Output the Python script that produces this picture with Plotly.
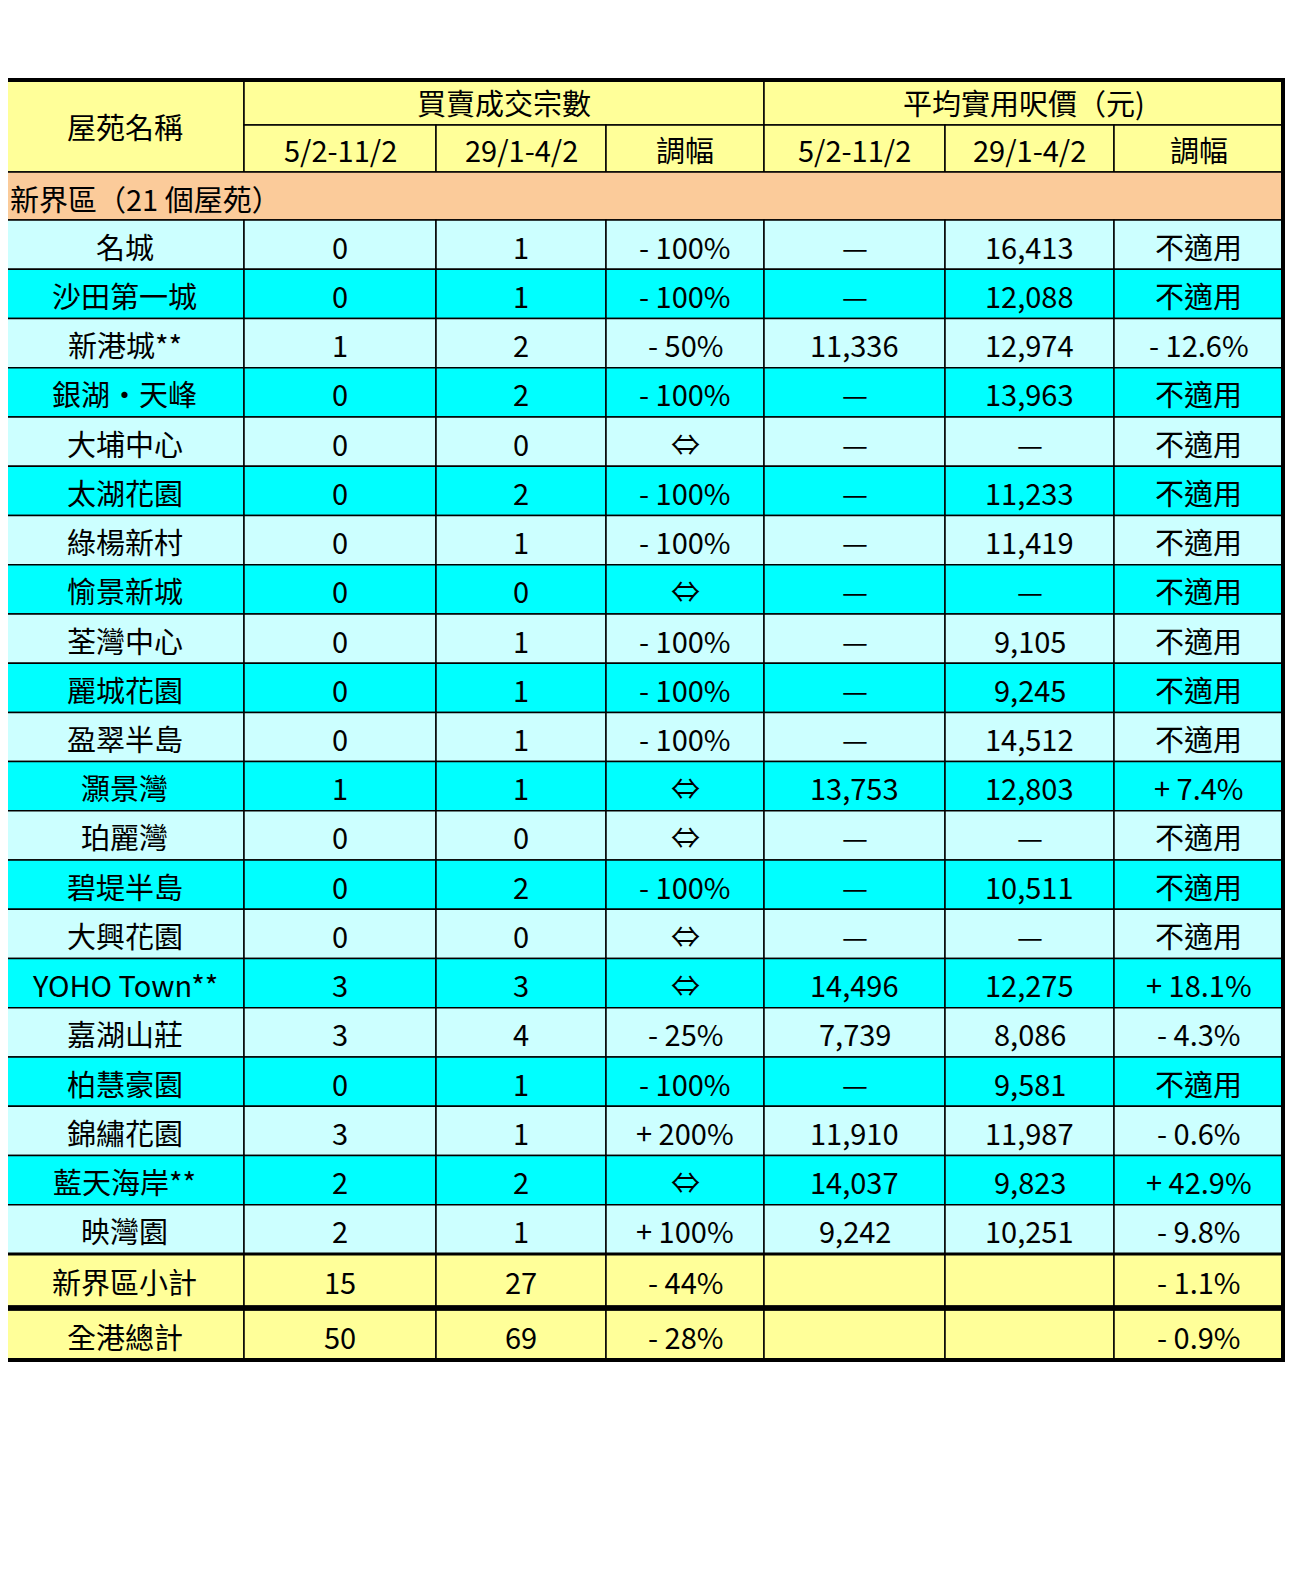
import plotly.graph_objects as go

estates = ["名城", "沙田第一城", "新港城**", "銀湖・天峰", "大埔中心", "太湖花園", "綠楊新村",
           "愉景新城", "荃灣中心", "麗城花園", "盈翠半島", "灝景灣", "珀麗灣", "碧堤半島",
           "大興花園", "YOHO Town**", "嘉湖山莊", "柏慧豪園", "錦繡花園", "藍天海岸**", "映灣園"]
deals_now = ["0", "0", "1", "0", "0", "0", "0", "0", "0", "0", "0", "1", "0", "0", "0", "3", "3", "0", "3", "2", "2"]
deals_prev = ["1", "1", "2", "2", "0", "2", "1", "0", "1", "1", "1", "1", "0", "2", "0", "3", "4", "1", "1", "2", "1"]
deals_chg = ["- 100%", "- 100%", "- 50%", "- 100%", "⇔", "- 100%", "- 100%", "⇔", "- 100%", "- 100%",
             "- 100%", "⇔", "⇔", "- 100%", "⇔", "⇔", "- 25%", "- 100%", "+ 200%", "⇔", "+ 100%"]
price_now = ["—", "—", "11,336", "—", "—", "—", "—", "—", "—", "—", "—", "13,753", "—", "—", "—",
             "14,496", "7,739", "—", "11,910", "14,037", "9,242"]
price_prev = ["16,413", "12,088", "12,974", "13,963", "—", "11,233", "11,419", "—", "9,105", "9,245",
              "14,512", "12,803", "—", "10,511", "—", "12,275", "8,086", "9,581", "11,987", "9,823", "10,251"]
price_chg = ["不適用", "不適用", "- 12.6%", "不適用", "不適用", "不適用", "不適用", "不適用", "不適用", "不適用",
             "不適用", "+ 7.4%", "不適用", "不適用", "不適用", "+ 18.1%", "- 4.3%", "不適用", "- 0.6%", "+ 42.9%", "- 9.8%"]
subtotal = ["新界區小計", "15", "27", "- 44%", "", "", "- 1.1%"]
total = ["全港總計", "50", "69", "- 28%", "", "", "- 0.9%"]

title = "表一：全港 50 指標屋苑一周成交量價變化（續）"
notes = ["註**：成交單位質素有異，造價未可反映實際市場走勢",
         "註：上述 50 個屋苑的買賣成交資料，乃根據利嘉閣地產分行網絡於市場上收集所得的臨時數",
         "字，僅供參考，並有可能會作修訂而不另行通知。一切因依賴上述內容而引致之損失，本行",
         "概不負責。",
         "資料來源：利嘉閣地產分行紀錄"]

FONT = "Noto Sans CJK TC"
cols = [5, 244, 436, 606, 764, 945, 1114, 1283]
YEL, ORG, LC, CY = "#FFFF99", "#FBCB9A", "#CCFFFF", "#00FFFF"

shapes, ann = [], []


def rect(x0, y0, x1, y1, fill, lw=1.5):
    shapes.append(dict(type="rect", x0=x0, x1=x1, y0=y0, y1=y1, fillcolor=fill,
                       line=dict(color="black", width=lw), layer="below"))


def txt(x, y, s, size=29, anchor="center"):
    ann.append(dict(x=x, y=y, text=s, showarrow=False,
                    xanchor=anchor, yanchor="middle", font=dict(family=FONT, size=size, color="black")))


ann.append(dict(x=3, y=36, text=f"<b>{title}</b>", showarrow=False, xanchor="left", yanchor="middle",
                font=dict(family=FONT, size=53, color="black")))

# header
rect(cols[0], 80, cols[1], 172, YEL)
txt((cols[0] + cols[1]) / 2, 126, "屋苑名稱")
rect(cols[1], 80, cols[4], 125, YEL)
txt((cols[1] + cols[4]) / 2, 102, "買賣成交宗數")
rect(cols[4], 80, cols[7], 125, YEL)
txt((cols[4] + cols[7]) / 2, 102, "平均實用呎價（元)")
for i, h in enumerate(["5/2-11/2", "29/1-4/2", "調幅", "5/2-11/2", "29/1-4/2", "調幅"]):
    rect(cols[i + 1], 125, cols[i + 2], 172, YEL)
    txt((cols[i + 1] + cols[i + 2]) / 2, 149, h)

rect(cols[0], 172, cols[7], 220, ORG)
txt(8, 198, "新界區（21 個屋苑）", anchor="left")

rh = (1254 - 220) / len(estates)
for r in range(len(estates)):
    y0 = 220 + r * rh
    fill = LC if r % 2 == 0 else CY
    row = [estates[r], deals_now[r], deals_prev[r], deals_chg[r], price_now[r], price_prev[r], price_chg[r]]
    for c, v in enumerate(row):
        rect(cols[c], y0, cols[c + 1], y0 + rh, fill)
        txt((cols[c] + cols[c + 1]) / 2, y0 + rh / 2 + 1, v)

for (y0, y1), row in [((1254, 1306), subtotal), ((1310, 1360), total)]:
    for c, v in enumerate(row):
        rect(cols[c], y0, cols[c + 1], y1, YEL)
        txt((cols[c] + cols[c + 1]) / 2, (y0 + y1) / 2 + 1, v)
shapes.append(dict(type="rect", x0=cols[0], x1=cols[7], y0=80, y1=1360, line=dict(color="black", width=4)))
shapes.append(dict(type="line", x0=cols[0], x1=cols[7], y0=1308, y1=1308, line=dict(color="black", width=5)))
shapes.append(dict(type="line", x0=cols[0], x1=cols[7], y0=1254, y1=1254, line=dict(color="black", width=3)))

for y, n in zip([1384, 1422, 1460, 1497, 1545], notes):
    txt(3, y, n, size=30, anchor="left")

fig = go.Figure()
# page body has an 8px margin, so shift the coordinate frame to keep pixel positions
fig.update_layout(width=1295, height=1576, margin=dict(l=0, r=0, t=0, b=0),
                  paper_bgcolor="white", plot_bgcolor="white", shapes=shapes, annotations=ann,
                  xaxis=dict(range=[8, 1303], visible=False, fixedrange=True),
                  yaxis=dict(range=[1584, 8], visible=False, fixedrange=True), showlegend=False)
fig.write_html("out.html")
